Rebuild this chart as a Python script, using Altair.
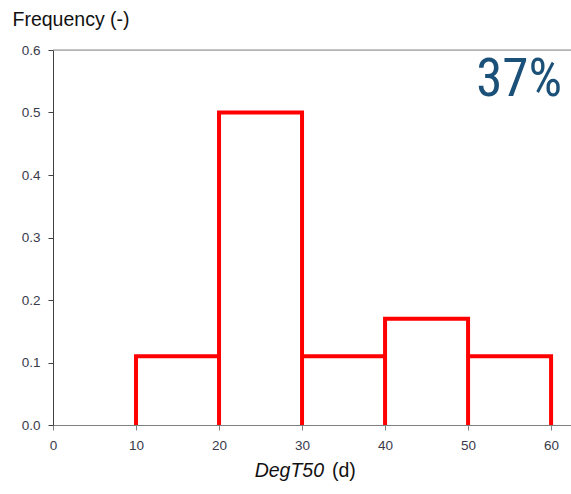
import altair as alt
import pandas as pd

# Histogram of DegT50 values: bin edges (days) and relative frequency per bin
bin_edges = [10, 20, 30, 40, 50, 60]
frequency = [0.11, 0.50, 0.11, 0.17, 0.11]
y_ticks = [0.0, 0.1, 0.2, 0.3, 0.4, 0.5, 0.6]
x_ticks = [0, 10, 20, 30, 40, 50, 60]
share_label = "37%"

PLOT_W, PLOT_H = 518, 375
X_MAX = 62.4

# Outline path: walks each bar up, across and back down to zero,
# so no red segment is drawn along the baseline.
xs, ys = [], []
for i, f in enumerate(frequency):
    left, right = bin_edges[i], bin_edges[i + 1]
    xs += [left, left, right, right]
    ys += [0.0, f, f, 0.0]
path = pd.DataFrame({"x": xs, "y": ys, "order": range(len(xs))})

x_scale = alt.Scale(domain=[0, X_MAX], nice=False, zero=False)
y_scale = alt.Scale(domain=[0, 0.6], nice=False)

axis_font = "Liberation Sans, Arial, sans-serif"

outline = alt.Chart(path).mark_line(
    color="#ff0000", strokeWidth=4, strokeJoin="miter", strokeCap="butt"
).encode(
    x=alt.X("x:Q", scale=x_scale, axis=alt.Axis(
        values=x_ticks, title=None, grid=False,
        domainColor="#7f7f7f", tickColor="#7f7f7f", tickSize=5,
        labelFont=axis_font, labelFontSize=13.5, labelColor="#3a3a4a",
        labelPadding=8, labelFlush=False,
    )),
    y=alt.Y("y:Q", scale=y_scale, axis=alt.Axis(
        values=y_ticks, format=".1f", grid=False,
        title="Frequency (-)", titleAngle=0, titleAlign="left",
        titleBaseline="alphabetic", titleX=-41, titleY=-25,
        titleFont=axis_font, titleFontSize=19.5, titleFontWeight="normal",
        titleColor="#111111",
        domainColor="#404040", tickColor="#404040", tickSize=5,
        labelFont=axis_font, labelFontSize=13.5, labelColor="#3a3a4a",
        labelPadding=8,
    )),
    order="order:Q",
)

top_line = alt.Chart(pd.DataFrame({"y": [0.6]})).mark_rule(
    color="#8a8a8a", strokeWidth=1
).encode(
    y=alt.Y("y:Q", scale=y_scale),
    x=alt.value(0), x2=alt.value(PLOT_W),
)

share = alt.Chart(pd.DataFrame({"t": [share_label]})).mark_text(
    font="Liberation Sans Narrow, Roboto Condensed, DejaVu Sans Condensed, sans-serif",
    fontSize=53, color="#1b5078", align="right", baseline="alphabetic",
).encode(text="t:N", x=alt.value(509), y=alt.value(46))

title_italic = alt.Chart(pd.DataFrame({"t": ["DegT50"]})).mark_text(
    font=axis_font, fontSize=19.5, fontStyle="italic", color="#111111",
    align="right", baseline="alphabetic",
).encode(text="t:N", x=alt.value(271), y=alt.value(427))

title_unit = alt.Chart(pd.DataFrame({"t": ["(d)"]})).mark_text(
    font=axis_font, fontSize=19.5, color="#111111",
    align="left", baseline="alphabetic",
).encode(text="t:N", x=alt.value(279), y=alt.value(427))

chart = alt.layer(top_line, outline, share, title_italic, title_unit).properties(
    width=PLOT_W, height=PLOT_H,
    autosize=alt.AutoSizeParams(type="none"),
    padding={"left": 53, "top": 50, "right": 0, "bottom": 69},
).configure_view(stroke=None).configure(background="white")

chart.save("out.html", embed_options={"renderer": "svg", "actions": False})
